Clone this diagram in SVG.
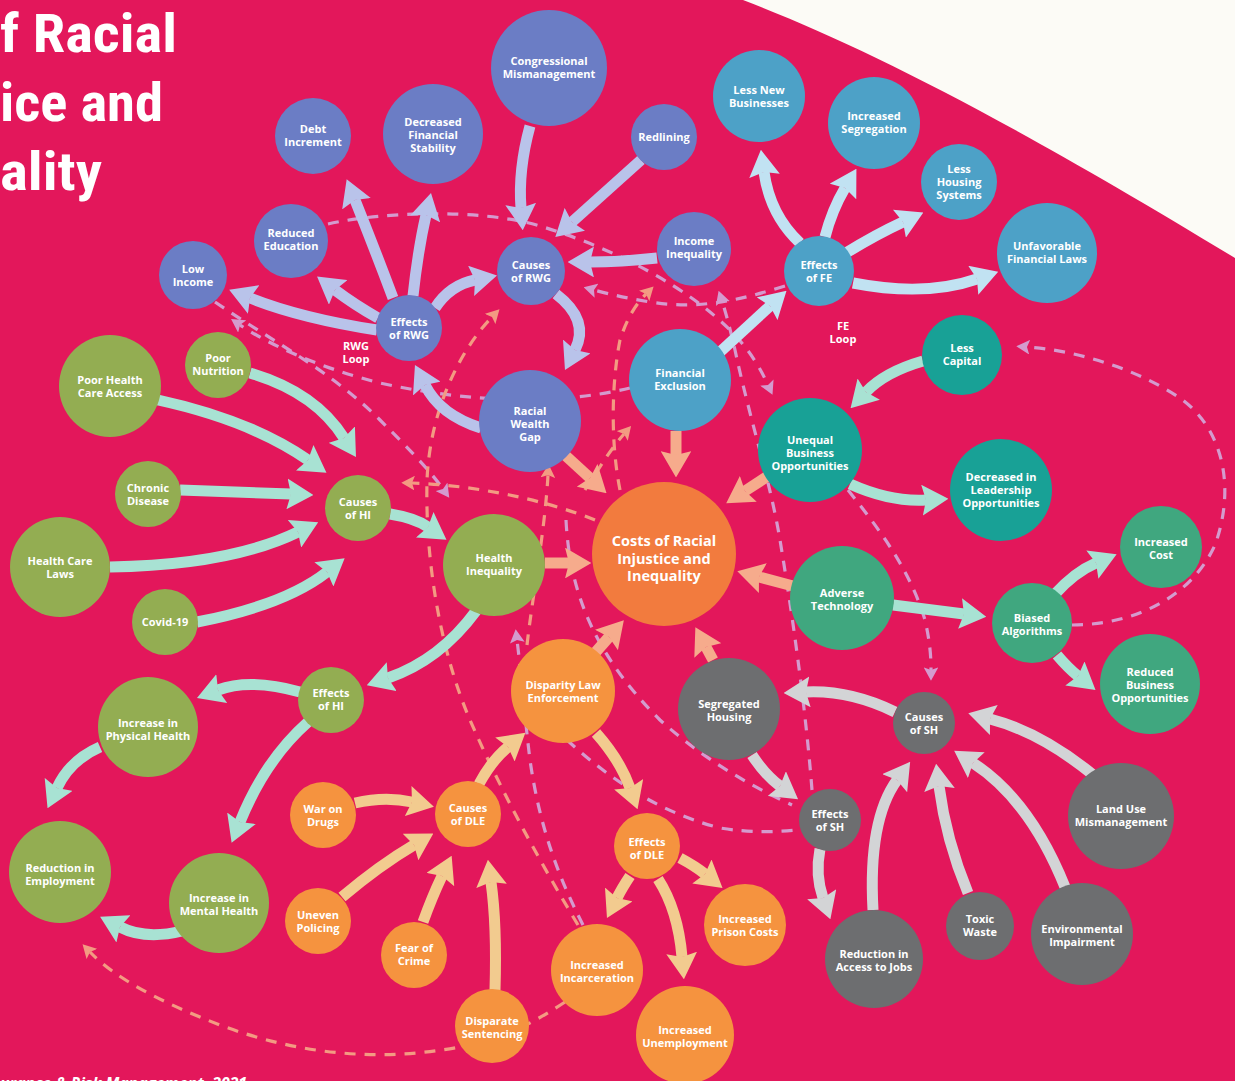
<svg xmlns="http://www.w3.org/2000/svg" width="1235" height="1081" viewBox="0 0 1235 1081">
  <defs>
    <style>
      .lbl { fill: #ffffff; font-family: "Open Sans", "Noto Sans", "Liberation Sans", sans-serif; font-weight: 700; font-size: 11px; text-anchor: middle; }
      .lbl-big { font-size: 14.5px; }
      .title { fill: #ffffff; font-family: "Liberation Sans Narrow", "Roboto Condensed", "Roboto", "Liberation Sans", sans-serif; font-weight: 700; font-size: 53px; }
      .foot { fill: #ffffff; font-family: "Open Sans", "Liberation Sans", sans-serif; font-weight: 700; font-style: italic; font-size: 16px; }
      .c-rwg { fill: #6B7DC5; }
      .c-fe { fill: #4DA1C7; }
      .c-teal { fill: #18A196; }
      .c-tech { fill: #40A77F; }
      .c-center { fill: #F27B3E; }
      .c-hi { fill: #93AD52; }
      .c-dle { fill: #F5933F; }
      .c-sh { fill: #6D6E70; }
      .a { fill: none; stroke-width: 11; stroke-linecap: butt; }
      .a-rwg { stroke: #B9C3EA; marker-end: url(#h-rwg); }
      .a-fe { stroke: #C1E2F2; marker-end: url(#h-fe); }
      .a-mint { stroke: #A8E2D3; marker-end: url(#h-mint); }
      .a-peach { stroke: #F6AB8C; marker-end: url(#h-peach); }
      .a-tan { stroke: #F2CB8F; marker-end: url(#h-tan); }
      .a-gray { stroke: #D3D4D6; marker-end: url(#h-gray); }
      .d { fill: none; stroke-width: 3.2; stroke-dasharray: 11 9; }
      .d-lav { stroke: #D49BCE; }
      .d-lav.arr { marker-end: url(#dh-lav); }
      .d-peach { stroke: #F39B82; }
      .d-peach.arr { marker-end: url(#dh-peach); }
    </style>
    <marker id="h-rwg" viewBox="0 0 10 10" refX="1.5" refY="5" markerWidth="2.4" markerHeight="2.8" preserveAspectRatio="none" orient="auto" markerUnits="strokeWidth"><path d="M0,0 L10,5 L0,10 L1.5,5 Z" fill="#B9C3EA"/></marker>
    <marker id="h-fe" viewBox="0 0 10 10" refX="1.5" refY="5" markerWidth="2.4" markerHeight="2.8" preserveAspectRatio="none" orient="auto" markerUnits="strokeWidth"><path d="M0,0 L10,5 L0,10 L1.5,5 Z" fill="#C1E2F2"/></marker>
    <marker id="h-mint" viewBox="0 0 10 10" refX="1.5" refY="5" markerWidth="2.4" markerHeight="2.8" preserveAspectRatio="none" orient="auto" markerUnits="strokeWidth"><path d="M0,0 L10,5 L0,10 L1.5,5 Z" fill="#A8E2D3"/></marker>
    <marker id="h-peach" viewBox="0 0 10 10" refX="1.5" refY="5" markerWidth="2.4" markerHeight="2.8" preserveAspectRatio="none" orient="auto" markerUnits="strokeWidth"><path d="M0,0 L10,5 L0,10 L1.5,5 Z" fill="#F6AB8C"/></marker>
    <marker id="h-tan" viewBox="0 0 10 10" refX="1.5" refY="5" markerWidth="2.4" markerHeight="2.8" preserveAspectRatio="none" orient="auto" markerUnits="strokeWidth"><path d="M0,0 L10,5 L0,10 L1.5,5 Z" fill="#F2CB8F"/></marker>
    <marker id="h-gray" viewBox="0 0 10 10" refX="1.5" refY="5" markerWidth="2.4" markerHeight="2.8" preserveAspectRatio="none" orient="auto" markerUnits="strokeWidth"><path d="M0,0 L10,5 L0,10 L1.5,5 Z" fill="#D3D4D6"/></marker>
    <marker id="dh-lav" viewBox="0 0 10 10" refX="2" refY="5" markerWidth="4.2" markerHeight="4.6" preserveAspectRatio="none" orient="auto" markerUnits="strokeWidth"><path d="M0,0 L10,5 L0,10 L2,5 Z" fill="#D49BCE"/></marker>
    <marker id="dh-peach" viewBox="0 0 10 10" refX="2" refY="5" markerWidth="4.2" markerHeight="4.6" preserveAspectRatio="none" orient="auto" markerUnits="strokeWidth"><path d="M0,0 L10,5 L0,10 L2,5 Z" fill="#F39B82"/></marker>
  </defs>

  <!-- page background and the paper corner -->
  <rect x="0" y="0" width="1235" height="1081" fill="#E3175B"/>
  <path d="M743,0 C860,45 1000,115 1235,258 L1235,0 Z" fill="#FCFBF6"/>

  <!-- headline -->
  <g id="headline">
    <text class="title" x="0" y="52" textLength="177" lengthAdjust="spacingAndGlyphs">f Racial</text>
    <text class="title" x="0" y="121" textLength="163" lengthAdjust="spacingAndGlyphs">ice and</text>
    <text class="title" x="0" y="190" textLength="102" lengthAdjust="spacingAndGlyphs">ality</text>
  </g>
  <text class="foot" x="0" y="1089" textLength="247" lengthAdjust="spacingAndGlyphs">urance &amp; Risk Management, 2021</text>

  <!-- feedback loops (dashed) -->
  <g id="loops">
    <path class="d d-lav arr" d="M328,224 C380,212 480,208 540,226 C620,250 690,290 730,330 C752,352 762,372 768,385"/>
    <path class="d d-lav arr" d="M630,388 C560,405 470,403 380,383 C320,368 270,345 240,325"/>
    <path class="d d-lav arr" d="M215,302 C270,340 330,370 380,420 C405,445 428,468 443,489"/>
    <path class="d d-lav arr" d="M785,286 C740,300 700,310 650,302 C620,297 605,293 594,290"/>
    <path class="d d-lav arr" d="M812,790 C805,700 790,600 780,540 C770,480 750,420 735,350 C729,324 725,310 722,301"/>
    <path class="d d-lav arr" d="M848,490 C880,530 910,570 925,620 C930,642 931,656 931,670"/>
    <path class="d d-lav arr" d="M1072,625 C1130,625 1190,600 1215,545 C1235,490 1225,430 1180,398 C1130,365 1070,350 1027,347"/>
    <path class="d d-lav" d="M566,520 C570,600 600,660 660,720 C710,765 760,790 792,805"/>
    <path class="d d-lav" d="M567,740 C600,770 650,810 720,828 C750,833 775,832 798,830"/>
    <path class="d d-lav arr" d="M583,925 C560,880 540,830 530,760 C525,720 522,680 517,640"/>
    <path class="d d-peach arr" d="M578,925 C545,870 505,800 470,720 C440,650 425,560 427,480 C430,410 460,350 492,317"/>
    <path class="d d-peach arr" d="M527,645 C532,600 545,530 548,475"/>
    <path class="d d-peach arr" d="M620,490 C610,440 612,380 620,340 C628,315 638,302 646,294"/>
    <path class="d d-peach arr" d="M585,490 C598,470 610,450 624,434"/>
    <path class="d d-peach arr" d="M595,520 C540,498 470,485 412,483"/>
    <path class="d d-peach arr" d="M565,1002 C530,1025 500,1040 460,1047 C380,1062 300,1055 220,1025 C160,1002 115,978 90,952"/>
  </g>

  <!-- causal arrows -->
  <g id="connectors">
    <!-- racial wealth gap cluster -->
    <path class="a a-rwg" d="M530,126 Q518,170 521,208"/>
    <path class="a a-rwg" d="M641,160 L572,222"/>
    <path class="a a-rwg" d="M657,258 Q620,262 590,262"/>
    <path class="a a-rwg" d="M556,294 Q590,320 575,350"/>
    <path class="a a-rwg" d="M481,428 Q440,415 425,385"/>
    <path class="a a-rwg" d="M435,308 Q450,285 475,280"/>
    <path class="a a-rwg" d="M413,296 Q418,250 426,215"/>
    <path class="a a-rwg" d="M393,298 Q375,250 355,200"/>
    <path class="a a-rwg" d="M378,318 Q355,305 335,290"/>
    <path class="a a-rwg" d="M377,330 Q300,318 250,298"/>
    <!-- financial exclusion cluster -->
    <path class="a a-fe" d="M720,352 L770,306"/>
    <path class="a a-fe" d="M800,243 Q770,215 764,172"/>
    <path class="a a-fe" d="M825,237 Q832,210 845,188"/>
    <path class="a a-fe" d="M846,253 Q875,235 903,222"/>
    <path class="a a-fe" d="M853,283 Q925,297 977,279"/>
    <!-- business and technology cluster -->
    <path class="a a-mint" d="M923,361 Q885,372 866,392"/>
    <path class="a a-mint" d="M850,484 Q890,502 926,500"/>
    <path class="a a-mint" d="M893,605 L964,614"/>
    <path class="a a-mint" d="M1055,594 Q1075,572 1096,563"/>
    <path class="a a-mint" d="M1057,655 Q1068,668 1078,676"/>
    <!-- into the central cost node -->
    <path class="a a-peach" d="M566,456 L590,478"/>
    <path class="a a-peach" d="M676,431 L676,455"/>
    <path class="a a-peach" d="M768,476 L745,491"/>
    <path class="a a-peach" d="M793,586 L759,577"/>
    <path class="a a-peach" d="M545,563 L569,563"/>
    <path class="a a-peach" d="M594,654 L609,637"/>
    <path class="a a-peach" d="M713,660 L706,647"/>
    <!-- health inequality cluster -->
    <path class="a a-mint" d="M158,400 Q250,420 308,460"/>
    <path class="a a-mint" d="M250,373 Q315,392 344,438"/>
    <path class="a a-mint" d="M180,490 Q240,492 291,494"/>
    <path class="a a-mint" d="M110,567 Q230,565 298,532"/>
    <path class="a a-mint" d="M197,622 Q285,605 327,572"/>
    <path class="a a-mint" d="M390,514 Q415,518 428,527"/>
    <path class="a a-mint" d="M476,611 Q440,660 388,678"/>
    <path class="a a-mint" d="M300,692 Q250,678 218,690"/>
    <path class="a a-mint" d="M308,722 Q265,760 240,822"/>
    <path class="a a-mint" d="M100,747 Q70,760 57,788"/>
    <path class="a a-mint" d="M182,931 Q145,940 120,927"/>
    <!-- law enforcement cluster -->
    <path class="a a-tan" d="M355,803 Q385,796 412,802"/>
    <path class="a a-tan" d="M342,897 Q380,865 414,845"/>
    <path class="a a-tan" d="M423,922 Q432,897 442,876"/>
    <path class="a a-tan" d="M495,990 Q497,925 491,882"/>
    <path class="a a-tan" d="M479,784 Q492,760 508,747"/>
    <path class="a a-tan" d="M596,733 Q620,760 630,788"/>
    <path class="a a-tan" d="M680,858 Q695,866 705,874"/>
    <path class="a a-tan" d="M630,876 Q622,888 617,898"/>
    <path class="a a-tan" d="M658,879 Q678,910 682,957"/>
    <!-- segregated housing cluster -->
    <path class="a a-gray" d="M895,712 Q850,690 806,692"/>
    <path class="a a-gray" d="M1092,774 Q1040,732 990,719"/>
    <path class="a a-gray" d="M1065,887 Q1030,800 973,763"/>
    <path class="a a-gray" d="M968,893 Q946,840 939,786"/>
    <path class="a a-gray" d="M873,910 Q868,820 897,780"/>
    <path class="a a-gray" d="M752,755 Q765,775 780,786"/>
    <path class="a a-gray" d="M820,849 Q815,875 823,898"/>
  </g>

  <!-- loop captions -->
  <text class="lbl" x="356" y="350">RWG<tspan x="356" y="363">Loop</tspan></text>
  <text class="lbl" x="843" y="330">FE<tspan x="843" y="343">Loop</tspan></text>

  <!-- racial wealth gap nodes -->
  <g id="congressional-mismanagement"><circle class="c-rwg" cx="549" cy="68" r="58"/><text class="lbl" x="549" y="65">Congressional<tspan x="549" y="78">Mismanagement</tspan></text></g>
  <g id="debt-increment"><circle class="c-rwg" cx="313" cy="136" r="38"/><text class="lbl" x="313" y="133">Debt<tspan x="313" y="146">Increment</tspan></text></g>
  <g id="decreased-financial-stability"><circle class="c-rwg" cx="433" cy="134" r="50"/><text class="lbl" x="433" y="126">Decreased<tspan x="433" y="139">Financial</tspan><tspan x="433" y="152">Stability</tspan></text></g>
  <g id="redlining"><circle class="c-rwg" cx="664" cy="137" r="33"/><text class="lbl" x="664" y="141">Redlining</text></g>
  <g id="reduced-education"><circle class="c-rwg" cx="291" cy="241" r="37"/><text class="lbl" x="291" y="237">Reduced<tspan x="291" y="250">Education</tspan></text></g>
  <g id="low-income"><circle class="c-rwg" cx="193" cy="275" r="34"/><text class="lbl" x="193" y="273">Low<tspan x="193" y="286">Income</tspan></text></g>
  <g id="causes-rwg"><circle class="c-rwg" cx="531" cy="271" r="34"/><text class="lbl" x="531" y="269">Causes<tspan x="531" y="282">of RWG</tspan></text></g>
  <g id="income-inequality"><circle class="c-rwg" cx="694" cy="249" r="37"/><text class="lbl" x="694" y="245">Income<tspan x="694" y="258">Inequality</tspan></text></g>
  <g id="effects-rwg"><circle class="c-rwg" cx="409" cy="328" r="33"/><text class="lbl" x="409" y="326">Effects<tspan x="409" y="339">of RWG</tspan></text></g>
  <g id="racial-wealth-gap"><circle class="c-rwg" cx="530" cy="421" r="51"/><text class="lbl" x="530" y="415">Racial<tspan x="530" y="428">Wealth</tspan><tspan x="530" y="441">Gap</tspan></text></g>

  <!-- financial exclusion nodes -->
  <g id="less-new-businesses"><circle class="c-fe" cx="759" cy="96" r="46"/><text class="lbl" x="759" y="94">Less New<tspan x="759" y="107">Businesses</tspan></text></g>
  <g id="increased-segregation"><circle class="c-fe" cx="874" cy="123" r="46"/><text class="lbl" x="874" y="120">Increased<tspan x="874" y="133">Segregation</tspan></text></g>
  <g id="less-housing-systems"><circle class="c-fe" cx="959" cy="182" r="38"/><text class="lbl" x="959" y="173">Less<tspan x="959" y="186">Housing</tspan><tspan x="959" y="199">Systems</tspan></text></g>
  <g id="unfavorable-financial-laws"><circle class="c-fe" cx="1047" cy="253" r="50"/><text class="lbl" x="1047" y="250">Unfavorable<tspan x="1047" y="263">Financial Laws</tspan></text></g>
  <g id="effects-fe"><circle class="c-fe" cx="819" cy="271" r="35"/><text class="lbl" x="819" y="269">Effects<tspan x="819" y="282">of FE</tspan></text></g>
  <g id="financial-exclusion"><circle class="c-fe" cx="680" cy="380" r="51"/><text class="lbl" x="680" y="377">Financial<tspan x="680" y="390">Exclusion</tspan></text></g>

  <!-- business opportunity nodes -->
  <g id="less-capital"><circle class="c-teal" cx="962" cy="355" r="40"/><text class="lbl" x="962" y="352">Less<tspan x="962" y="365">Capital</tspan></text></g>
  <g id="unequal-business-opportunities"><circle class="c-teal" cx="810" cy="450" r="52"/><text class="lbl" x="810" y="444">Unequal<tspan x="810" y="457">Business</tspan><tspan x="810" y="470">Opportunities</tspan></text></g>
  <g id="decreased-leadership"><circle class="c-teal" cx="1001" cy="490" r="51"/><text class="lbl" x="1001" y="481">Decreased in<tspan x="1001" y="494">Leadership</tspan><tspan x="1001" y="507">Opportunities</tspan></text></g>

  <!-- technology nodes -->
  <g id="adverse-technology"><circle class="c-tech" cx="842" cy="598" r="52"/><text class="lbl" x="842" y="597">Adverse<tspan x="842" y="610">Technology</tspan></text></g>
  <g id="biased-algorithms"><circle class="c-tech" cx="1032" cy="623" r="40"/><text class="lbl" x="1032" y="622">Biased<tspan x="1032" y="635">Algorithms</tspan></text></g>
  <g id="increased-cost"><circle class="c-tech" cx="1161" cy="547" r="41"/><text class="lbl" x="1161" y="546">Increased<tspan x="1161" y="559">Cost</tspan></text></g>
  <g id="reduced-business-opportunities"><circle class="c-tech" cx="1150" cy="684" r="50"/><text class="lbl" x="1150" y="676">Reduced<tspan x="1150" y="689">Business</tspan><tspan x="1150" y="702">Opportunities</tspan></text></g>

  <!-- central node -->
  <g id="costs-of-racial-injustice"><circle class="c-center" cx="664" cy="554" r="72"/><text class="lbl lbl-big" x="664" y="546">Costs of Racial<tspan x="664" y="563.5">Injustice and</tspan><tspan x="664" y="581">Inequality</tspan></text></g>

  <!-- health inequality nodes -->
  <g id="poor-health-care-access"><circle class="c-hi" cx="110" cy="386" r="51"/><text class="lbl" x="110" y="384">Poor Health<tspan x="110" y="397">Care Access</tspan></text></g>
  <g id="poor-nutrition"><circle class="c-hi" cx="218" cy="365" r="33"/><text class="lbl" x="218" y="362">Poor<tspan x="218" y="375">Nutrition</tspan></text></g>
  <g id="chronic-disease"><circle class="c-hi" cx="148" cy="494" r="33"/><text class="lbl" x="148" y="492">Chronic<tspan x="148" y="505">Disease</tspan></text></g>
  <g id="health-care-laws"><circle class="c-hi" cx="60" cy="567" r="50"/><text class="lbl" x="60" y="565">Health Care<tspan x="60" y="578">Laws</tspan></text></g>
  <g id="covid-19"><circle class="c-hi" cx="165" cy="622" r="33"/><text class="lbl" x="165" y="626">Covid-19</text></g>
  <g id="causes-hi"><circle class="c-hi" cx="358" cy="508" r="33"/><text class="lbl" x="358" y="506">Causes<tspan x="358" y="519">of HI</tspan></text></g>
  <g id="health-inequality"><circle class="c-hi" cx="494" cy="565" r="51"/><text class="lbl" x="494" y="562">Health<tspan x="494" y="575">Inequality</tspan></text></g>
  <g id="effects-hi"><circle class="c-hi" cx="331" cy="700" r="33"/><text class="lbl" x="331" y="697">Effects<tspan x="331" y="710">of HI</tspan></text></g>
  <g id="increase-physical-health"><circle class="c-hi" cx="148" cy="727" r="50"/><text class="lbl" x="148" y="727">Increase in<tspan x="148" y="740">Physical Health</tspan></text></g>
  <g id="reduction-employment"><circle class="c-hi" cx="60" cy="872" r="51"/><text class="lbl" x="60" y="872">Reduction in<tspan x="60" y="885">Employment</tspan></text></g>
  <g id="increase-mental-health"><circle class="c-hi" cx="219" cy="903" r="50"/><text class="lbl" x="219" y="902">Increase in<tspan x="219" y="915">Mental Health</tspan></text></g>

  <!-- law enforcement nodes -->
  <g id="disparity-law-enforcement"><circle class="c-dle" cx="563" cy="691" r="52"/><text class="lbl" x="563" y="689">Disparity Law<tspan x="563" y="702">Enforcement</tspan></text></g>
  <g id="war-on-drugs"><circle class="c-dle" cx="323" cy="815" r="33"/><text class="lbl" x="323" y="813">War on<tspan x="323" y="826">Drugs</tspan></text></g>
  <g id="causes-dle"><circle class="c-dle" cx="468" cy="814" r="33"/><text class="lbl" x="468" y="812">Causes<tspan x="468" y="825">of DLE</tspan></text></g>
  <g id="uneven-policing"><circle class="c-dle" cx="318" cy="921" r="33"/><text class="lbl" x="318" y="919">Uneven<tspan x="318" y="932">Policing</tspan></text></g>
  <g id="fear-of-crime"><circle class="c-dle" cx="414" cy="955" r="33"/><text class="lbl" x="414" y="952">Fear of<tspan x="414" y="965">Crime</tspan></text></g>
  <g id="disparate-sentencing"><circle class="c-dle" cx="492" cy="1026" r="37"/><text class="lbl" x="492" y="1025">Disparate<tspan x="492" y="1038">Sentencing</tspan></text></g>
  <g id="effects-dle"><circle class="c-dle" cx="647" cy="846" r="33"/><text class="lbl" x="647" y="846">Effects<tspan x="647" y="859">of DLE</tspan></text></g>
  <g id="increased-prison-costs"><circle class="c-dle" cx="745" cy="925" r="41"/><text class="lbl" x="745" y="923">Increased<tspan x="745" y="936">Prison Costs</tspan></text></g>
  <g id="increased-incarceration"><circle class="c-dle" cx="597" cy="970" r="46"/><text class="lbl" x="597" y="969">Increased<tspan x="597" y="982">Incarceration</tspan></text></g>
  <g id="increased-unemployment"><circle class="c-dle" cx="685" cy="1035" r="49"/><text class="lbl" x="685" y="1034">Increased<tspan x="685" y="1047">Unemployment</tspan></text></g>

  <!-- segregated housing nodes -->
  <g id="segregated-housing"><circle class="c-sh" cx="729" cy="709" r="51"/><text class="lbl" x="729" y="708">Segregated<tspan x="729" y="721">Housing</tspan></text></g>
  <g id="causes-sh"><circle class="c-sh" cx="924" cy="723" r="31"/><text class="lbl" x="924" y="721">Causes<tspan x="924" y="734">of SH</tspan></text></g>
  <g id="effects-sh"><circle class="c-sh" cx="830" cy="820" r="31"/><text class="lbl" x="830" y="818">Effects<tspan x="830" y="831">of SH</tspan></text></g>
  <g id="land-use-mismanagement"><circle class="c-sh" cx="1121" cy="816" r="53"/><text class="lbl" x="1121" y="813">Land Use<tspan x="1121" y="826">Mismanagement</tspan></text></g>
  <g id="reduction-access-jobs"><circle class="c-sh" cx="874" cy="959" r="49"/><text class="lbl" x="874" y="958">Reduction in<tspan x="874" y="971">Access to Jobs</tspan></text></g>
  <g id="toxic-waste"><circle class="c-sh" cx="980" cy="926" r="34"/><text class="lbl" x="980" y="923">Toxic<tspan x="980" y="936">Waste</tspan></text></g>
  <g id="environmental-impairment"><circle class="c-sh" cx="1082" cy="934" r="51"/><text class="lbl" x="1082" y="933">Environmental<tspan x="1082" y="946">Impairment</tspan></text></g>
</svg>
